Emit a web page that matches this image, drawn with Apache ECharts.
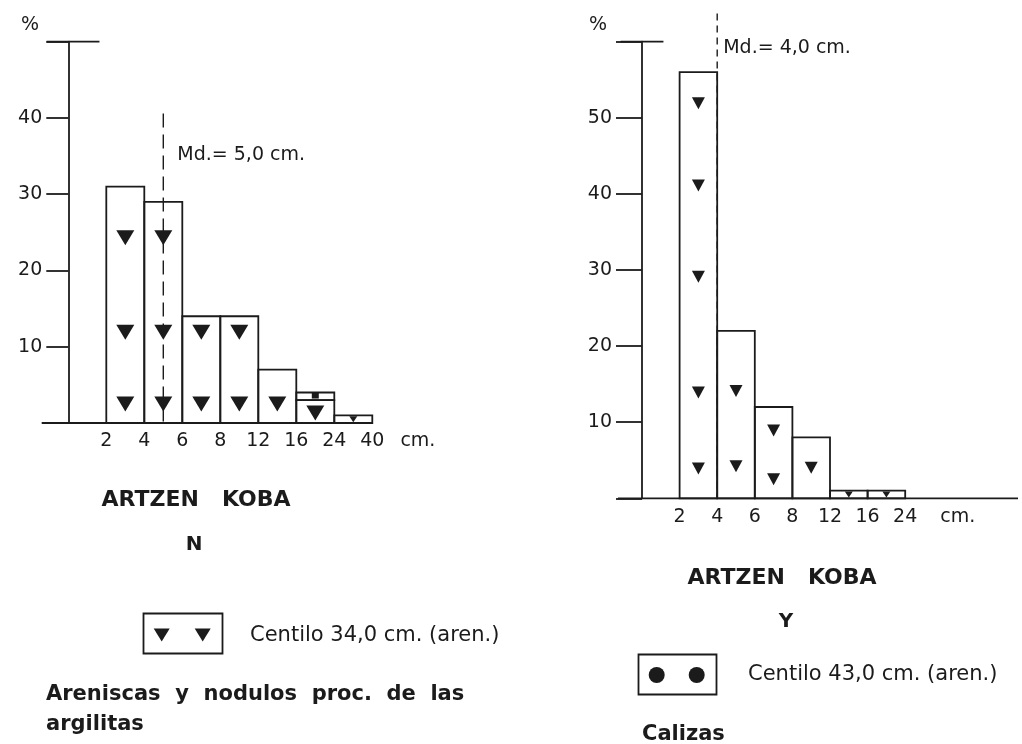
<!DOCTYPE html>
<html>
<head>
<meta charset="utf-8">
<script src="https://cdn.jsdelivr.net/npm/echarts@6/dist/echarts.min.js"></script>
<style>
  html, body { margin: 0; padding: 0; background: #fff; }
  #chart { width: 1022px; height: 744px; }
</style>
</head>
<body>
<div id="chart"></div>
<script>
// ---- Data -------------------------------------------------------------
// Class limits (cm) written under the horizontal axis
const limitsN = ['2', '4', '6', '8', '12', '16', '24', '40'];
const limitsY = ['2', '4', '6', '8', '12', '16', '24'];
// Size classes (cm)
const classesN = ['2-4', '4-6', '6-8', '8-12', '12-16', '16-24', '24-40'];
const classesY = ['2-4', '4-6', '6-8', '8-12', '12-16', '16-24'];
// Percentage of pieces in each class
const sandstoneN = [31, 29, 14, 14, 7, 3, 1];
const upperN = [0, 0, 0, 0, 0, 1, 0];
const limestoneY = [56, 22, 12, 8, 1, 1];
// Symbols drawn inside the bars: [class index, %]
const trianglesN = [[0, 24.3], [0, 11.9], [0, 2.5], [1, 24.3], [1, 11.9], [1, 2.5],
                    [2, 11.9], [2, 2.5], [3, 11.9], [3, 2.5], [4, 2.5], [5, 1.3]];
const smallTrianglesN = [[6, 0.5]];
const squaresN = [[5, 3.6]];
const trianglesY = [[0, 51.9], [0, 41.1], [0, 29.1], [0, 13.9], [0, 3.9], [1, 14.1], [1, 4.2],
                    [2, 8.9], [2, 2.5], [3, 4.0]];
const smallTrianglesY = [[4, 0.5], [5, 0.5]];
// Medians (cm)
const medianN = 5.0;
const medianY = 4.0;
// Vertical axis ranges (%)
const yMaxN = 50;
const yMaxY = 60;

// ---- Helpers -----------------------------------------------------------
const INK = '#1b1b1b';
const FONT = '"DejaVu Sans", sans-serif';
const LW = 1.8;

// position of a size (cm) on the class axis: class i spans [i+1, i+2]
function classPos(limits, cm) {
  const v = limits.map(Number);
  for (let i = 0; i < v.length - 1; i++) {
    if (cm >= v[i] && cm <= v[i + 1]) return i + 1 + (cm - v[i]) / (v[i + 1] - v[i]);
  }
  return 1;
}
function mdText(cm) { return 'Md.= ' + cm.toFixed(1).replace('.', ',') + ' cm.'; }

function barSeries(gi, values, bases) {
  return {
    type: 'custom', xAxisIndex: gi, yAxisIndex: gi, clip: false, silent: true,
    data: values.map((v, i) => [i, v, bases ? bases[i] : 0]),
    renderItem(params, api) {
      const i = api.value(0), h = api.value(1), b = api.value(2);
      if (!h) return null;
      const a = api.coord([i + 1, b + h]);
      const c = api.coord([i + 2, b]);
      return {
        type: 'rect',
        shape: { x: a[0], y: a[1], width: c[0] - a[0], height: c[1] - a[1] },
        style: { fill: 'rgba(0,0,0,0)', stroke: INK, lineWidth: LW }
      };
    }
  };
}

function frameSeries(gi, xFrom, xTo, capFrom, capTo, yMax) {
  return {
    type: 'custom', xAxisIndex: gi, yAxisIndex: gi, clip: false, silent: true,
    data: [[0]],
    renderItem(params, api) {
      const b0 = api.coord([xFrom, 0]), b1 = api.coord([xTo, 0]);
      const c0 = api.coord([capFrom, yMax]), c1 = api.coord([capTo, yMax]);
      return {
        type: 'group',
        children: [
          { type: 'line', shape: { x1: b0[0], y1: b0[1], x2: b1[0], y2: b1[1] },
            style: { stroke: INK, lineWidth: LW } },
          { type: 'line', shape: { x1: c0[0], y1: c0[1], x2: c1[0], y2: c1[1] },
            style: { stroke: INK, lineWidth: LW } }
        ]
      };
    }
  };
}

function medianSeries(gi, pos, top, labelAt, dx, dash, text) {
  return {
    type: 'custom', xAxisIndex: gi, yAxisIndex: gi, clip: false, silent: true,
    data: [[pos, top]],
    renderItem(params, api) {
      const p = api.coord([api.value(0), api.value(1)]);
      const q = api.coord([api.value(0), 0]);
      const t = api.coord([api.value(0), labelAt]);
      return {
        type: 'group',
        children: [
          { type: 'line', shape: { x1: p[0], y1: p[1], x2: q[0], y2: q[1] },
            style: { stroke: INK, lineWidth: 1.4, lineDash: dash } },
          { type: 'text', x: t[0] + dx, y: t[1],
            style: { text: text, fill: INK, font: '19px ' + FONT, align: 'left', verticalAlign: 'middle' } }
        ]
      };
    }
  };
}

function symbolSeries(gi, pts, symbol, size) {
  return {
    type: 'scatter', xAxisIndex: gi, yAxisIndex: gi, silent: true,
    symbol: symbol, symbolSize: size, symbolRotate: symbol === 'triangle' ? 180 : 0,
    itemStyle: { color: INK, opacity: 1 },
    data: pts.map(([i, v]) => [i + 1.5, v])
  };
}

function xAxisFor(gi, limits, unitAt, max) {
  const vals = limits.map((_, i) => i + 1).concat([unitAt]);
  return {
    gridIndex: gi, type: 'value', min: 0, max: max,
    axisLine: { show: false }, axisTick: { show: false }, splitLine: { show: false },
    axisLabel: {
      customValues: vals, margin: 9, color: INK, fontSize: 19, fontFamily: FONT,
      formatter(v) {
        const k = Math.round(v);
        if (Math.abs(v - k) < 1e-6 && k >= 1 && k <= limits.length) return limits[k - 1];
        return 'cm.';
      }
    }
  };
}

function yAxisFor(gi, yMax, tickLen, margin) {
  return {
    gridIndex: gi, type: 'value', min: 0, max: yMax, interval: 10,
    axisLine: { show: true, lineStyle: { color: INK, width: LW } },
    axisTick: { show: true, length: tickLen, lineStyle: { color: INK, width: LW } },
    splitLine: { show: false },
    axisLabel: {
      margin: margin, color: INK, fontSize: 19, fontFamily: FONT,
      formatter: v => (v === 0 || v === yMax) ? '' : String(v)
    }
  };
}

// ---- Legend / caption graphics ----------------------------------------
function txt(x, y, text, size, weight, align) {
  return {
    type: 'text', x: x, y: y, silent: true,
    style: { text: text, fill: INK, font: (weight || 'normal') + ' ' + size + 'px ' + FONT,
             align: align || 'left', verticalAlign: 'middle' }
  };
}
function downTri(cx, cy, w, h) {
  return { type: 'polygon', silent: true,
    shape: { points: [[cx - w / 2, cy - h / 2], [cx + w / 2, cy - h / 2], [cx, cy + h / 2]] },
    style: { fill: INK } };
}

const graphics = [
  txt(30, 25, '%', 19, 'normal', 'center'),
  txt(598, 25, '%', 19, 'normal', 'center'),
  txt(196, 500, 'ARTZEN   KOBA', 22, 'bold', 'center'),
  txt(194, 545, 'N', 20, 'bold', 'center'),
  { type: 'rect', silent: true, shape: { x: 143.5, y: 613.5, width: 79, height: 40 },
    style: { fill: 'none', stroke: INK, lineWidth: LW } },
  downTri(161.7, 635, 16, 13),
  downTri(202.7, 635, 16, 13),
  txt(250, 636, 'Centilo 34,0 cm. (aren.)', 21, 'normal', 'left'),
  txt(46, 695, 'Areniscas  y  nodulos  proc.  de  las', 21, 'bold', 'left'),
  txt(46, 725, 'argilitas', 21, 'bold', 'left'),

  txt(782, 578, 'ARTZEN   KOBA', 22, 'bold', 'center'),
  txt(786, 622, 'Y', 20, 'bold', 'center'),
  { type: 'rect', silent: true, shape: { x: 638.5, y: 654.5, width: 78, height: 40 },
    style: { fill: 'none', stroke: INK, lineWidth: LW } },
  { type: 'circle', silent: true, shape: { cx: 656.7, cy: 675, r: 8 }, style: { fill: INK } },
  { type: 'circle', silent: true, shape: { cx: 696.7, cy: 675, r: 8 }, style: { fill: INK } },
  txt(748, 675, 'Centilo 43,0 cm. (aren.)', 21, 'normal', 'left'),
  txt(642, 735, 'Calizas', 21, 'bold', 'left')
];

// ---- Chart -------------------------------------------------------------
const chart = echarts.init(document.getElementById('chart'), null, { renderer: 'canvas' });
const posN = classPos(limitsN, medianN);
const posY = classPos(limitsY, medianY);

chart.setOption({
  animation: false,
  backgroundColor: '#ffffff',
  grid: [
    { left: 68.3, top: 41.7, width: 9.5 * 38, height: 381.3 },
    { left: 642, top: 41.7, width: 10 * 37.6, height: 456.6 }
  ],
  xAxis: [
    xAxisFor(0, limitsN, 9.2, 9.5),
    xAxisFor(1, limitsY, 8.4, 10)
  ],
  yAxis: [
    yAxisFor(0, yMaxN, 22, 26),
    yAxisFor(1, yMaxY, 26, 30)
  ],
  series: [
    frameSeries(0, -0.7, limitsN.length, -0.57, 0.82, yMaxN),
    barSeries(0, sandstoneN, null),
    barSeries(0, upperN, sandstoneN),
    medianSeries(0, posN, 40.6, 35.2, 14, [14, 7], mdText(medianN)),
    symbolSeries(0, trianglesN, 'triangle', [18, 15]),
    symbolSeries(0, smallTrianglesN, 'triangle', [8, 6]),
    symbolSeries(0, squaresN, 'rect', [7, 6]),

    frameSeries(1, -0.64, 10, -0.57, 0.57, yMaxY),
    barSeries(1, limestoneY, null),
    medianSeries(1, posY, 63.7, 59.1, 6, [7, 5], mdText(medianY)),
    symbolSeries(1, trianglesY, 'triangle', [13, 12]),
    symbolSeries(1, smallTrianglesY, 'triangle', [8, 6])
  ],
  graphic: graphics
});
</script>
</body>
</html>
